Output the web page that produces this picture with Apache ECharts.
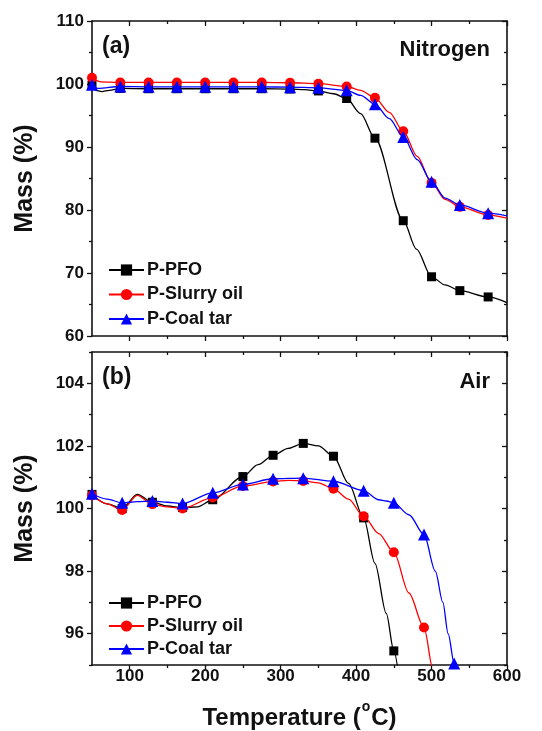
<!DOCTYPE html>
<html><head><meta charset="utf-8">
<script src="https://cdn.jsdelivr.net/npm/echarts@6/dist/echarts.min.js"></script>
<style>html,body{margin:0;padding:0;background:#fff}#c{width:542px;height:731px}</style>
</head><body><div id="c"></div>
<script>
// ---------- tick values ----------
const xMajor = [100, 200, 300, 400, 500, 600];
const xMinor = [150, 250, 350, 450, 550];
const yMajorA = [60, 70, 80, 90, 100, 110];
const yMinorA = [65, 75, 85, 95, 105];
const yMajorB = [96, 98, 100, 102, 104];
const yMinorB = [95, 97, 99, 101, 103, 105];

const names = ['P-PFO', 'P-Slurry oil', 'P-Coal tar'];

// ---------- (a) Nitrogen ----------
const nMarkT = [50, 87.5, 125, 162.5, 200, 237.5, 275, 312.5, 350, 387.5, 425, 462.5, 500, 537.5, 575];
const nPfo   = [99.8, 99.3, 99.25, 99.25, 99.25, 99.25, 99.25, 99.2, 98.9, 97.7, 91.4, 78.3, 69.4, 67.2, 66.2];
const nPfoXT = [55, 63, 73, 332, 370, 406, 480, 518, 600];
const nPfoXV = [99.0, 98.8, 99.0, 99.1, 98.45, 95.3, 73.8, 68.1, 65.3];
const nSlurry   = [101.0, 100.25, 100.25, 100.25, 100.25, 100.25, 100.25, 100.2, 100.05, 99.6, 97.8, 92.5, 84.3, 80.5, 79.2];
const nSlurryXT = [62, 406, 444, 481, 518, 600];
const nSlurryXV = [100.35, 99.0, 95.5, 88.5, 81.7, 78.7];
const nCoal   = [99.9, 99.6, 99.55, 99.55, 99.55, 99.55, 99.55, 99.5, 99.4, 99.0, 96.8, 91.6, 84.5, 80.8, 79.5];
const nCoalXT = [58, 406, 444, 481, 518, 600];
const nCoalXV = [99.3, 98.2, 94.5, 88.0, 81.9, 79.05];

// ---------- (b) Air ----------
const aMarkT = [50, 90, 130, 170, 210, 250, 290, 330, 370, 410, 450, 490, 530];
const aPfo   = [100.45, 100.0, 100.2, 100.03, 100.28, 101.02, 101.7, 102.08, 101.67, 99.7, 95.45];
const aPfoXT = [70, 110, 150, 190, 270, 310, 350, 390, 425, 440, 458];
const aPfoXV = [100.15, 100.45, 100.08, 100.05, 101.4, 101.92, 102.0, 100.8, 98.25, 96.65, 94.4];
const aSlurry   = [100.42, 99.95, 100.14, 100.0, 100.35, 100.72, 100.86, 100.88, 100.63, 99.75, 98.6, 96.2];
const aSlurryXT = [70, 110, 150, 310, 350, 390, 430, 470, 502, 506];
const aSlurryXV = [100.15, 100.42, 100.05, 100.9, 100.82, 100.3, 99.2, 97.3, 94.85, 94.3];
const aCoal   = [100.47, 100.18, 100.24, 100.16, 100.5, 100.77, 100.95, 100.97, 100.87, 100.57, 100.18, 99.17, 95.05];
const aCoalXT = [70, 110, 150, 430, 440, 470, 505, 515, 522, 534];
const aCoalXV = [100.3, 100.22, 100.2, 100.28, 100.24, 99.8, 98.0, 97.0, 96.0, 94.4];

const F = '"Liberation Sans", Arial, sans-serif';
const colors = ['#000000', '#ff0000', '#0000ff'];
const symbols = ['rect', 'circle', 'triangle'];
const symSizes = [9, 10, 12];

function build(markT, markV, xT, xV) {
  const pts = [];
  markV.forEach((v, i) => pts.push({ value: [markT[i], v], m: true }));
  xT.forEach((t, i) => pts.push({ value: [t, xV[i]], m: false }));
  pts.sort((a, b) => a.value[0] - b.value[0]);
  return pts.map(p => p.m ? { value: p.value } : { value: p.value, symbol: 'none' });
}

function mkSeries(k, gi, data) {
  return {
    type: 'line', name: names[k], xAxisIndex: gi * 4, yAxisIndex: gi * 4,
    data: data, smooth: 0.3, smoothMonotone: 'x',
    symbol: symbols[k], symbolSize: symSizes[k], showSymbol: true, showAllSymbol: true,
    itemStyle: { color: colors[k] }, lineStyle: { color: colors[k], width: 1.3 },
    emphasis: { disabled: true }, z: 2 + k
  };
}

const axLine = { show: true, onZero: false, lineStyle: { color: '#111', width: 1.6 } };
const tickStyle = { color: '#111', width: 1.3 };
const labelStyle = { fontSize: 17, fontWeight: 'bold', fontFamily: F, color: '#111' };

function xAxes(gi, withLabels) {
  const base = { type: 'value', gridIndex: gi, min: 50, max: 600, splitLine: { show: false } };
  const main = Object.assign({}, base, {
    position: 'bottom', axisLine: axLine,
    axisTick: { show: true, customValues: xMajor, length: 5, inside: false, lineStyle: tickStyle },
    axisLabel: withLabels ? Object.assign({ show: true, customValues: xMajor, margin: 3 }, labelStyle) : { show: false }
  });
  if (withLabels) {
    main.name = 'Temperature ({s|o}C)';
    main.nameLocation = 'middle';
    main.nameGap = 35;
    main.nameTextStyle = { fontSize: 24, fontWeight: 'bold', fontFamily: F, color: '#111',
      rich: { s: { fontSize: 14, fontWeight: 'bold', fontFamily: F, color: '#111', padding: [0, 1, 22, 1] } } };
  }
  return [
    main,
    Object.assign({}, base, { position: 'bottom', axisLine: { show: false },
      axisTick: { show: true, customValues: xMinor, length: 3, inside: false, lineStyle: tickStyle }, axisLabel: { show: false } }),
    Object.assign({}, base, { position: 'top', axisLine: axLine,
      axisTick: { show: true, customValues: xMajor, length: 5, inside: true, lineStyle: tickStyle }, axisLabel: { show: false } }),
    Object.assign({}, base, { position: 'top', axisLine: { show: false },
      axisTick: { show: true, customValues: xMinor, length: 3, inside: true, lineStyle: tickStyle }, axisLabel: { show: false } })
  ];
}

function yAxes(gi, min, max, major, minor) {
  const base = { type: 'value', gridIndex: gi, min: min, max: max, splitLine: { show: false } };
  return [
    Object.assign({}, base, {
      position: 'left', axisLine: axLine,
      axisTick: { show: true, customValues: major, length: 5, inside: false, lineStyle: tickStyle },
      axisLabel: Object.assign({ show: true, customValues: major, margin: 8 }, labelStyle),
      name: 'Mass (%)', nameLocation: 'middle', nameGap: 54,
      nameTextStyle: { fontSize: 25, fontWeight: 'bold', fontFamily: F, color: '#111' }
    }),
    Object.assign({}, base, { position: 'left', axisLine: { show: false },
      axisTick: { show: true, customValues: minor, length: 3, inside: false, lineStyle: tickStyle }, axisLabel: { show: false } }),
    Object.assign({}, base, { position: 'right', axisLine: axLine,
      axisTick: { show: true, customValues: major, length: 5, inside: true, lineStyle: tickStyle }, axisLabel: { show: false } }),
    Object.assign({}, base, { position: 'right', axisLine: { show: false },
      axisTick: { show: true, customValues: minor, length: 3, inside: true, lineStyle: tickStyle }, axisLabel: { show: false } })
  ];
}

function legend(top, gap) {
  return {
    data: names, orient: 'vertical', left: 103, top: top,
    itemWidth: 35, itemHeight: 14, itemGap: gap,
    selectedMode: false,
    textStyle: { fontSize: 18, fontWeight: 'bold', fontFamily: F, color: '#111', lineHeight: 18, padding: [0, 0, 0, -2] }
  };
}

function txt(x, y, s, size, align) {
  return { type: 'text', x: x, y: y, z: 10,
    style: { text: s, fontSize: size, fontWeight: 'bold', fontFamily: F, fill: '#111', align: align, verticalAlign: 'middle' } };
}

const option = {
  animation: false,
  backgroundColor: '#fff',
  grid: [
    { left: 92, top: 21, width: 415, height: 315 },
    { left: 92, top: 352, width: 415, height: 314 }
  ],
  xAxis: xAxes(0, false).concat(xAxes(1, true)),
  yAxis: yAxes(0, 60, 110, yMajorA, yMinorA).concat(yAxes(1, 95, 105, yMajorB, yMinorB)),
  legend: [legend(256, 6.5), legend(589, 5)],
  graphic: [
    txt(102, 47, '(a)', 23, 'left'),
    txt(490, 50, 'Nitrogen', 22, 'right'),
    txt(102, 378, '(b)', 23, 'left'),
    txt(490, 382, 'Air', 22, 'right')
  ],
  series: [
    mkSeries(0, 0, build(nMarkT, nPfo, nPfoXT, nPfoXV)),
    mkSeries(1, 0, build(nMarkT, nSlurry, nSlurryXT, nSlurryXV)),
    mkSeries(2, 0, build(nMarkT, nCoal, nCoalXT, nCoalXV)),
    mkSeries(0, 1, build(aMarkT, aPfo, aPfoXT, aPfoXV)),
    mkSeries(1, 1, build(aMarkT, aSlurry, aSlurryXT, aSlurryXV)),
    mkSeries(2, 1, build(aMarkT, aCoal, aCoalXT, aCoalXV))
  ]
};

const chart = echarts.init(document.getElementById('c'), null, { renderer: 'canvas' });
chart.setOption(option);
</script>
</body></html>
